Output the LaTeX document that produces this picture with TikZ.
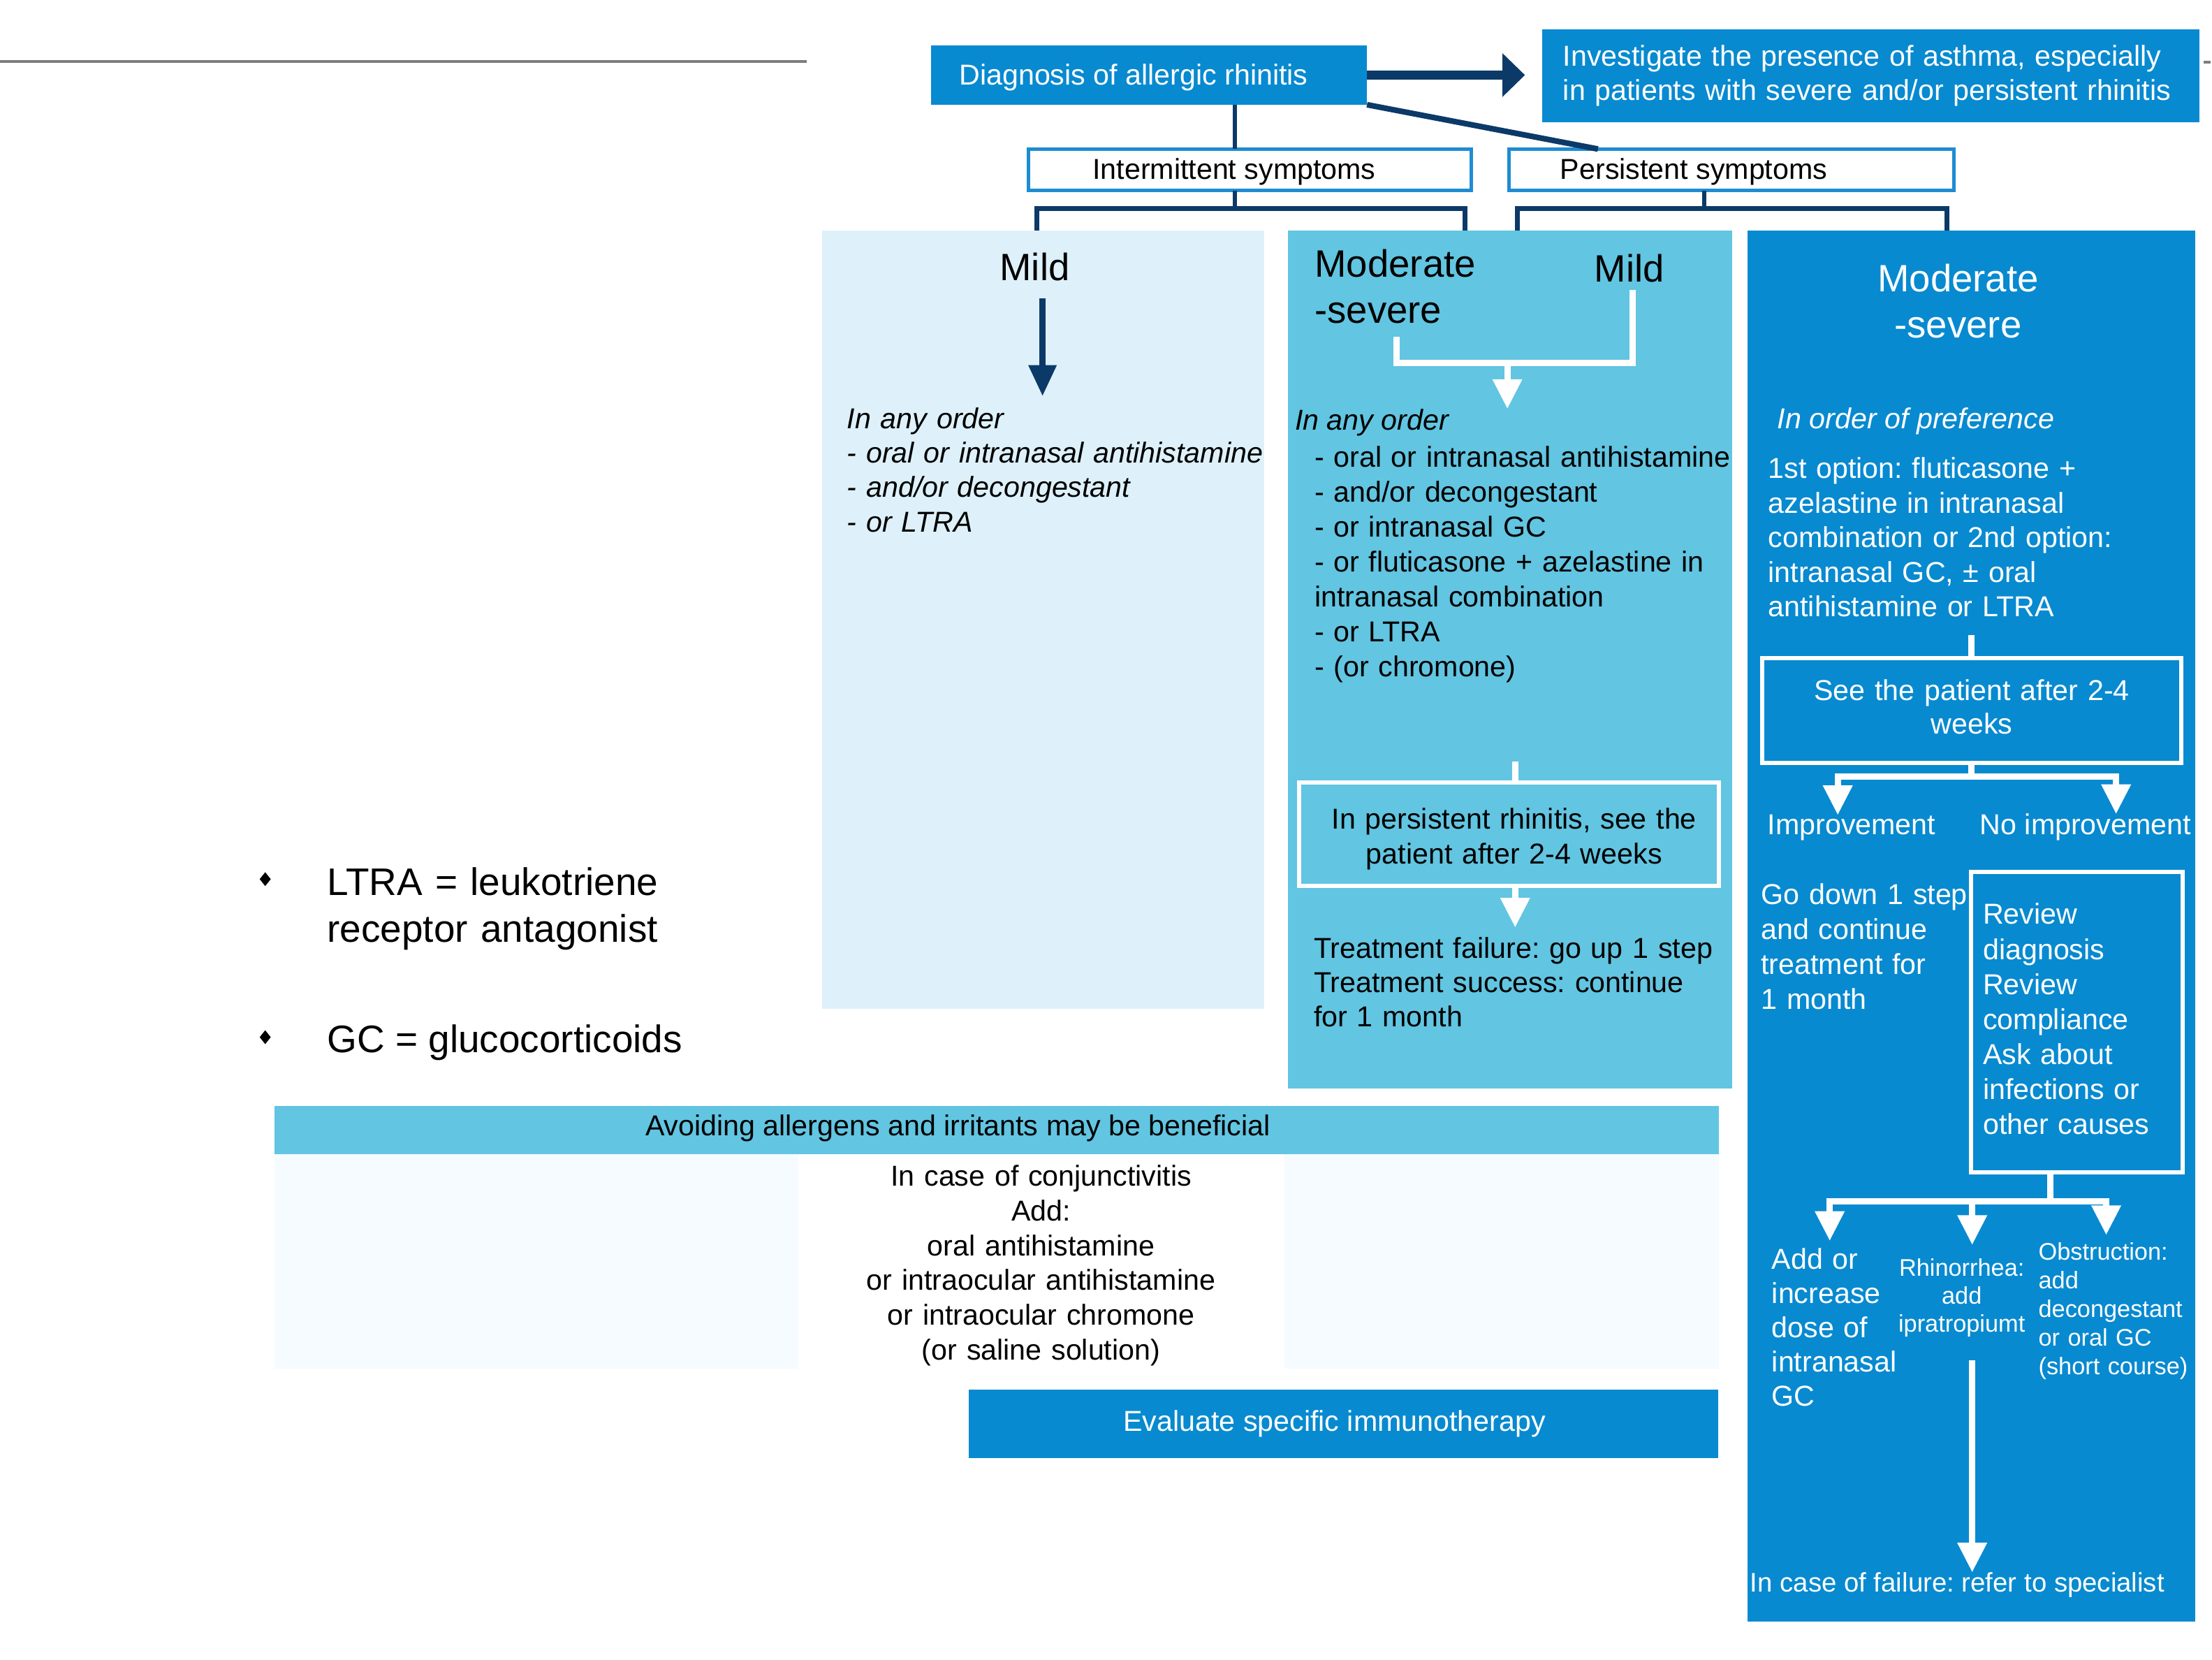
\documentclass[tikz,border=0pt]{standalone}
\usepackage{fontspec}
\setmainfont{Liberation Sans}
\usetikzlibrary{arrows.meta,calc,shapes.geometric}
\definecolor{dblue}{RGB}{8,138,208}
\definecolor{mcyan}{RGB}{98,197,225}
\definecolor{lblue}{RGB}{222,241,250}
\definecolor{navy}{RGB}{12,58,104}
\definecolor{edgeblue}{RGB}{30,140,210}
\definecolor{faint}{RGB}{245,251,254}
\definecolor{rulegray}{RGB}{125,125,125}
\newcommand{\myfs}[2]{\fontsize{#1pt}{#2pt}\selectfont}
\frenchspacing
\tikzset{
  rectnode/.style={rectangle, inner sep=0pt, outer sep=0pt, anchor=north west},
  fillbox/.style={rectnode, draw=none},
  symbox/.style={rectnode, draw=edgeblue, line width=2.5pt, fill=white},
  wbox/.style={rectnode, draw=white, line width=3pt},
  tx/.style={inner sep=0pt, outer sep=0pt, font=\myfs{20.4}{24.6}},
  txl/.style={tx, anchor=base west, align=left},
  txc/.style={tx, anchor=base, align=center},
  navyln/.style={draw=navy, line width=3.5pt},
  navyarr/.style={draw=navy, line width=4.5pt, -{Triangle[width=19pt,length=22pt]}},
  wln/.style={draw=white, line width=4.5pt},
  warr/.style={wln, -{Triangle[width=20pt,length=21pt]}},
  bullet/.style={diamond, fill=black, inner sep=0pt, minimum width=8pt, minimum height=10pt},
}
\begin{document}
\frenchspacing
\begin{tikzpicture}[x=1pt,y=-1pt,line join=miter]
\useasboundingbox (0,0) rectangle (1568,1176);
\fill[white] (0,0) rectangle (1568,1176);
\draw[rulegray, line width=2pt] (0,43.5) -- (572,43.5);
\draw[rulegray, line width=2pt] (1562,44) -- (1567,44);

% ---------- boxes and panels ----------
\node[fillbox, fill=lblue, minimum width=313.3pt, minimum height=551.6pt] (p1) at (582.7,163.4) {};
\node[fillbox, fill=mcyan, minimum width=315.2pt, minimum height=608pt] (p2) at (912.8,163.4) {};
\node[fillbox, fill=dblue, minimum width=317.3pt, minimum height=985.6pt] (p3) at (1238.7,163.4) {};
\node[fillbox, fill=mcyan, minimum width=1023.5pt, minimum height=34.2pt] (avoid) at (194.8,783.8) {};
\node[fillbox, fill=faint, minimum width=371pt, minimum height=152pt] (fl) at (194.8,818) {};
\node[fillbox, fill=faint, minimum width=307.7pt, minimum height=152pt] (fr) at (910.6,818) {};
\node[fillbox, fill=dblue, minimum width=531.5pt, minimum height=49pt] (evalbox) at (686.5,984.5) {};
\node[fillbox, fill=dblue, minimum width=309pt, minimum height=42pt] (diag) at (660,32.2) {};
\node[fillbox, fill=dblue, minimum width=466pt, minimum height=66pt] (inv) at (1093,20.6) {};
\node[symbox, minimum width=314pt, minimum height=29.4pt] (int) at (729,105.6) {};
\node[symbox, minimum width=315.3pt, minimum height=29.4pt] (pers) at (1069.7,105.6) {};
\node[wbox, minimum width=297.3pt, minimum height=73.2pt] (wb2) at (921,554.5) {};
\node[wbox, minimum width=297pt, minimum height=74pt] (sp) at (1249,466.5) {};
\node[wbox, minimum width=150pt, minimum height=213pt] (rv) at (1397,618) {};

% ---------- texts ----------
\node[txl, text=white] (diagtxt) at (680,60.2) {Diagnosis of allergic rhinitis};
\node[txl, text=white, text width=455pt, font=\myfs{20.4}{23.8}] (invtxt) at (1108,47) {Investigate the presence of asthma, especially\\in patients with severe and/or persistent rhinitis};
\node[txl] (inttxt) at (774.5,127) {Intermittent symptoms};
\node[txl] (perstxt) at (1106,127) {Persistent symptoms};

\node[txc, font=\myfs{27}{33}] (mild1) at (733.5,198.8) {Mild};
\node[txl, font=\myfs{20.4}{24.5}\itshape, text width=300pt] (list1) at (600.5,303.5) {In any order\\- oral or intranasal antihistamine\\- and/or decongestant\\- or LTRA};

\node[txl, font=\myfs{27}{32.6}, text width=150pt] (modsev2) at (932,196.4) {Moderate\\-severe};
\node[txc, font=\myfs{27}{33}] (mild2) at (1155,199.7) {Mild};
\node[txl, font=\myfs{20.4}{24.6}\itshape] (ord2) at (918,304.5) {In any order};
\node[txl, font=\myfs{20.4}{24.8}, text width=300pt] (list2) at (931.8,330.8) {- oral or intranasal antihistamine\\- and/or decongestant\\- or intranasal GC\\- or fluticasone + azelastine in\\intranasal combination\\- or LTRA\\- (or chromone)};
\node[txc, text width=290pt, font=\myfs{20.4}{24.8}] (wb2txt) at (1073.3,587.5) {In persistent rhinitis, see the\\patient after 2-4 weeks};
\node[txl, font=\myfs{20.4}{24.35}, text width=300pt] (treat) at (931.3,679) {Treatment failure: go up 1 step\\Treatment success: continue\\for 1 month};

\node[txc, text=white, font=\myfs{27}{32.7}, text width=200pt] (modsev3) at (1388,206.8) {Moderate\\-severe};
\node[txl, text=white, font=\myfs{20.4}{24.6}\itshape] (pref) at (1260,303.5) {In order of preference};
\node[txl, text=white, font=\myfs{20.4}{24.5}, text width=300pt] (list3) at (1253.4,339) {1st option: fluticasone +\\azelastine in intranasal\\combination or 2nd option:\\intranasal GC, ± oral\\antihistamine or LTRA};
\node[txc, text=white, text width=290pt, font=\myfs{20.4}{23.5}] (sptxt) at (1397.7,496.5) {See the patient after 2-4\\weeks};
\node[txl, text=white] (impr) at (1253,591.6) {Improvement};
\node[txl, text=white] (noimpr) at (1403.5,591.6) {No improvement};
\node[txl, text=white, text width=150pt, font=\myfs{20.4}{24.8}] (godown) at (1248.4,641) {Go down 1 step\\and continue\\treatment for\\1 month};
\node[txl, text=white, text width=140pt, font=\myfs{20.4}{24.8}] (rvtxt) at (1405.7,655) {Review\\diagnosis\\Review\\compliance\\Ask about\\infections or\\other causes};
\node[txl, text=white, text width=100pt, font=\myfs{20.4}{24.3}] (addor) at (1256,899.4) {Add or\\increase\\dose of\\intranasal\\GC};
\node[txc, text=white, text width=100pt, font=\myfs{17}{19.9}] (rhino) at (1390.6,904.3) {Rhinorrhea:\\add\\ipratropiumt};
\node[txl, text=white, text width=130pt, font=\myfs{17}{20.4}] (obst) at (1445,892.7) {Obstruction:\\add\\decongestant\\or oral GC\\(short course)};
\node[txl, text=white, font=\myfs{19}{23}] (fail) at (1240.7,1128) {In case of failure: refer to specialist};

\node[txc] (avoidtxt) at (679,805) {Avoiding allergens and irritants may be beneficial};
\node[txc, text width=400pt, font=\myfs{20.4}{24.7}] (conj) at (738,840.3) {In case of conjunctivitis\\Add:\\oral antihistamine\\or intraocular antihistamine\\or intraocular chromone\\(or saline solution)};
\node[txc, text=white] (evaltxt) at (946,1014) {Evaluate specific immunotherapy};

\node[bullet] (bul1) at (188,623) {};
\node[bullet] (bul2) at (188,735) {};
\node[txl, font=\myfs{27.2}{33}, text width=300pt] (leg1) at (232,634.5) {LTRA = leukotriene\\receptor antagonist};
\node[txl, font=\myfs{27.2}{33}] (leg2) at (232,746) {GC = glucocorticoids};

% ---------- connectors ----------
\draw[draw=navy, line width=6pt, -{Triangle[width=30pt,length=16pt]}, shorten >=12pt] (diag.east) -- (inv.west |- diag.east);

\coordinate (jint) at (875.2,147.6);
\coordinate (bl1) at (735,147.6);
\coordinate (br1) at (1038.4,147.6);
\coordinate (jpers) at (1208,147.6);
\coordinate (bl2) at (1075.6,147.6);
\coordinate (br2) at (1380,147.6);
\draw[navyln, line width=3pt] (diag.south -| jint) -- (int.north -| jint);
\draw[navyln, line width=4pt] (diag.south east) -- ([xshift=63pt]pers.north west);
\draw[navyln, line width=3pt] (int.south -| jint) -- (jint);
\draw[navyln] (p1.north -| bl1) -- (bl1) -- (br1) -- (p2.north -| br1);
\draw[navyln, line width=3pt] (pers.south -| jpers) -- (jpers);
\draw[navyln] (p2.north -| bl2) -- (bl2) -- (br2) -- (p3.north -| br2);

\coordinate (m1x) at ($(mild1.south)+(5.5,0)$);
\draw[navyarr, shorten >=8pt] ($(m1x)+(0,12.2)$) -- (m1x |- list1.north);

\coordinate (w2l) at (990,257.4);
\coordinate (w2r) at (1157.4,257.4);
\coordinate (w2m) at (1068.5,257.4);
\draw[wln] ($(w2l |- modsev2.south)+(0,9.6)$) -- (w2l) -- (w2r) -- ($(w2r |- mild2.south)+(0,5.7)$);
\draw[warr] (w2m) -- (w2m |- ord2.north);

\coordinate (t2) at (1074,539.6);
\draw[wln] (t2) -- (t2 |- wb2.north);
\draw[warr, shorten >=7pt] (t2 |- wb2.south) -- (t2 |- treat.north);

\draw[wln] ($(list3.south -| sp.north)+(0,13)$) -- (sp.north);
\coordinate (ja) at (1397.5,550.5);
\coordinate (ia) at (1302.7,550.5);
\coordinate (na) at (1500,550.5);
\draw[wln] (sp.south) -- (ja);
\draw[warr] (ja) -- (ia) -- (ia |- impr.north);
\draw[warr] (ja) -- (na) -- (na |- noimpr.north);

\coordinate (jb) at (1453.5,851.5);
\coordinate (b1) at (1297,851.5);
\coordinate (b2) at (1398,851.5);
\coordinate (b3) at (1493,851.5);
\draw[wln] (rv.south -| jb) -- (jb);
\draw[warr, shorten >=5.3pt] (jb) -- (b1) -- (b1 |- addor.north);
\draw[warr, shorten >=9.8pt] (b2) -- (b2 |- rhino.north);
\draw[warr, shorten >=5.2pt] (jb) -- (b3) -- (b3 |- obst.north);
\draw[warr] ($(b2 |- rhino.south)+(0,16.4)$) -- (b2 |- fail.north);
\end{tikzpicture}
\end{document}
